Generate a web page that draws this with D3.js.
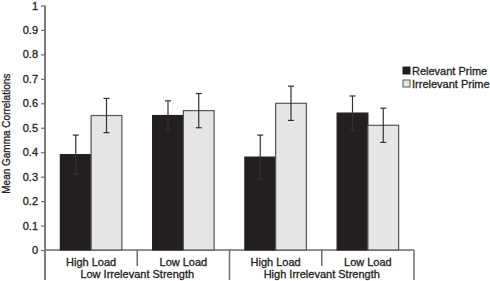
<!DOCTYPE html>
<html>
<head>
<meta charset="utf-8">
<script src="https://cdn.jsdelivr.net/npm/d3@7"></script>
<style>
  body { margin: 0; background: #fff; }
  svg { display: block; font-family: "Liberation Sans", Arial, sans-serif; }
  text { stroke: #222; stroke-width: 0.3; }
</style>
</head>
<body>
<svg id="draw" width="490" height="281"></svg>
<script>
let groups = ["Low Irrelevant Strength", "High Irrelevant Strength"];
let loads = ["High Load", "Low Load"];
let seriesNames = ["Relevant Prime", "Irrelevant Prime"];
let relevant = [0.39, 0.55, 0.38, 0.56];
let relevantErr = [0.08, 0.06, 0.09, 0.07];
let irrelevant = [0.55, 0.57, 0.60, 0.51];
let irrelevantErr = [0.07, 0.07, 0.07, 0.07];
let yTicks = [0, 0.1, 0.2, 0.3, 0.4, 0.5, 0.6, 0.7, 0.8, 0.9, 1];
let fills = ["#231f20", "#e6e6e6"];

let svg = d3.select("#draw");
let plotLeft = 45, plotRight = 414, plotTop = 5.5, base = 250;
let axisColor = "#6e6e6e";

let cats = [];
groups.forEach((g, gi) => loads.forEach((l, li) => cats.push({ id: gi + "-" + li, group: g, load: l })));

let x = d3.scaleBand().domain(cats.map(c => c.id)).range([plotLeft, plotRight]);
let xs = d3.scaleBand().domain(seriesNames).range([0, x.bandwidth()]).paddingOuter(0.5);
let y = d3.scaleLinear().domain([0, 1]).range([base, plotTop]);

// y axis
let yAxis = svg.append("g")
    .attr("transform", "translate(" + plotLeft + ",0)")
    .call(d3.axisLeft(y).tickValues(yTicks).tickFormat(d => d).tickSize(4).tickPadding(3));
yAxis.select(".domain").remove();
yAxis.selectAll("line").attr("stroke", axisColor).attr("stroke-width", 1.2);
yAxis.selectAll("text").attr("font-size", 11).attr("fill", "#222");
svg.append("line").attr("x1", plotLeft).attr("x2", plotLeft).attr("y1", y(1)).attr("y2", 280)
    .attr("stroke", axisColor).attr("stroke-width", 1.8);

// x baseline and separators
svg.append("line").attr("x1", plotLeft).attr("x2", plotRight).attr("y1", base).attr("y2", base)
    .attr("stroke", axisColor).attr("stroke-width", 1.5);
cats.forEach((c, i) => {
    let xr = x(c.id) + x.bandwidth();
    let isGroupEnd = i % 2 === 1;
    svg.append("line").attr("x1", xr).attr("x2", xr).attr("y1", base)
        .attr("y2", isGroupEnd ? 280 : 266).attr("stroke", axisColor).attr("stroke-width", 1.5);
    svg.append("text").attr("x", x(c.id) + x.bandwidth() / 2).attr("y", 266)
        .attr("text-anchor", "middle").attr("font-size", 11).attr("fill", "#222").text(c.load);
});
groups.forEach((g, gi) => {
    let x0 = x(gi + "-0"), x1 = x(gi + "-1") + x.bandwidth();
    svg.append("text").attr("x", (x0 + x1) / 2).attr("y", 278)
        .attr("text-anchor", "middle").attr("font-size", 11).attr("fill", "#222").text(g);
});

// bars
let series = [
    { name: seriesNames[0], vals: relevant, errs: relevantErr },
    { name: seriesNames[1], vals: irrelevant, errs: irrelevantErr }
];
series.forEach((s, si) => {
    svg.append("g").selectAll("rect")
        .data(cats)
        .enter()
        .append("rect")
        .attr("x", c => x(c.id) + xs(s.name))
        .attr("y", (c, i) => y(s.vals[i]))
        .attr("width", xs.bandwidth())
        .attr("height", (c, i) => base - y(s.vals[i]))
        .attr("fill", fills[si])
        .attr("stroke", si === 0 ? "#231f20" : "#555")
        .attr("stroke-width", 1.2);
});

// error bars
series.forEach((s, si) => {
    cats.forEach((c, i) => {
        let cx = x(c.id) + xs(s.name) + xs.bandwidth() / 2;
        let hi = y(s.vals[i] + s.errs[i]), lo = y(s.vals[i] - s.errs[i]);
        let g = svg.append("g").attr("stroke", "#333").attr("stroke-width", 1.2);
        g.append("line").attr("x1", cx).attr("x2", cx).attr("y1", hi).attr("y2", lo);
        g.append("line").attr("x1", cx - 3).attr("x2", cx + 3).attr("y1", hi).attr("y2", hi);
        g.append("line").attr("x1", cx - 3).attr("x2", cx + 3).attr("y1", lo).attr("y2", lo);
    });
});

// y label
svg.append("text")
    .attr("transform", "translate(10," + (y(0.5) + 6) + ") rotate(-90)")
    .attr("text-anchor", "middle").attr("font-size", 10).attr("fill", "#222")
    .text("Mean Gamma Correlations");

// legend
seriesNames.forEach((n, i) => {
    let ly = 71 + i * 13;
    svg.append("rect").attr("x", 403).attr("y", ly - 4).attr("width", 7).attr("height", 7)
        .attr("fill", fills[i]).attr("stroke", i === 0 ? "#231f20" : "#555");
    svg.append("text").attr("x", 412).attr("y", ly + 4).attr("font-size", 11)
        .attr("fill", "#222").text(n);
});
</script>
</body>
</html>
